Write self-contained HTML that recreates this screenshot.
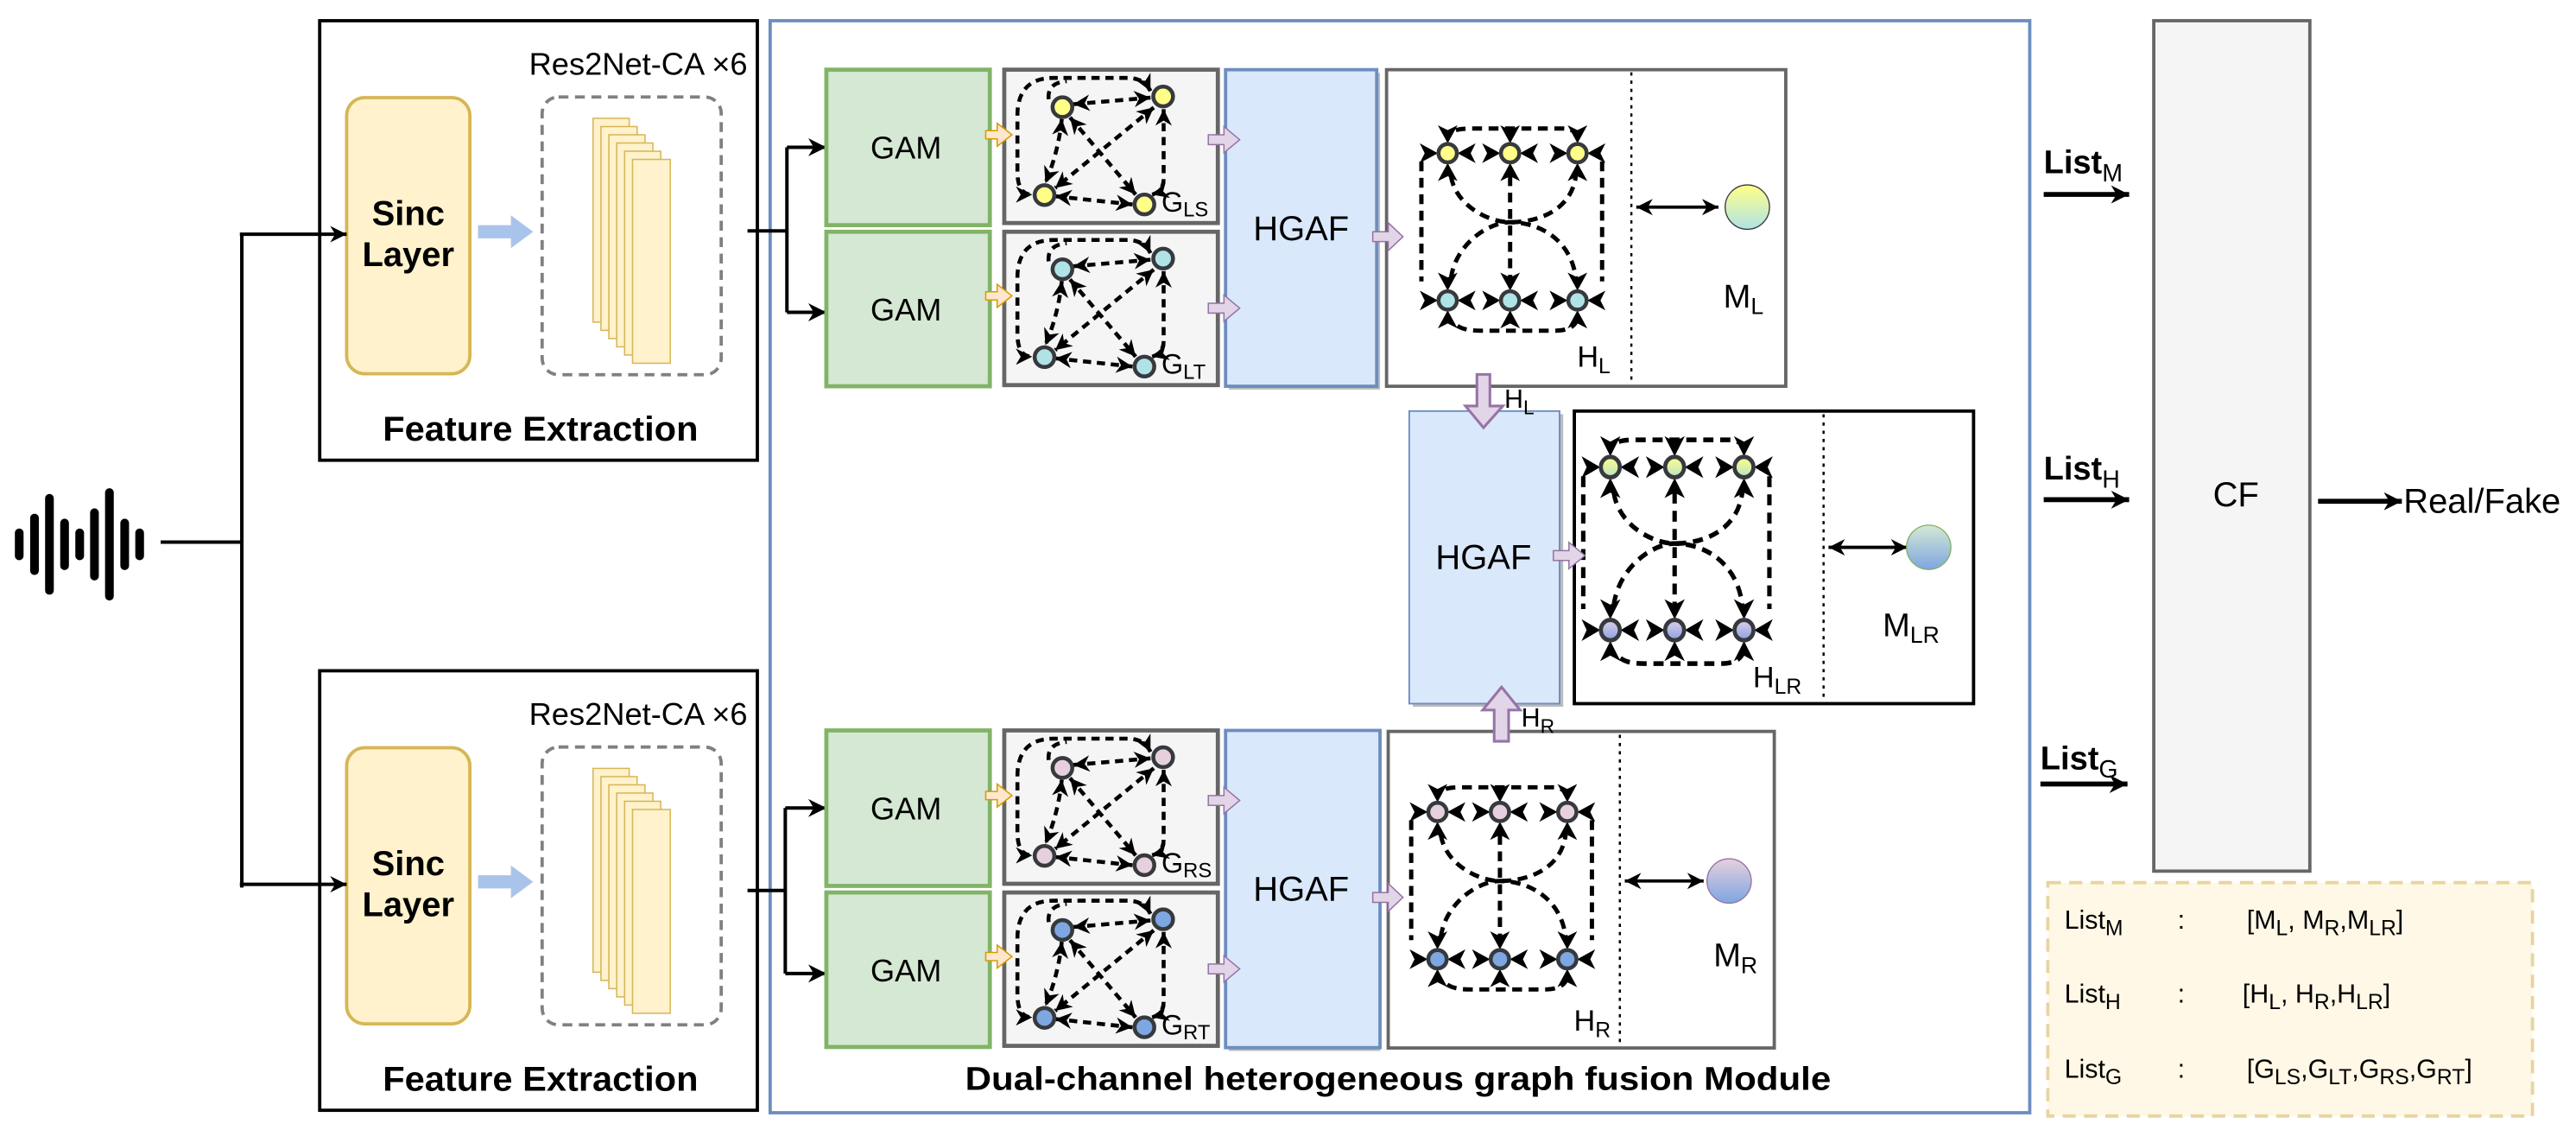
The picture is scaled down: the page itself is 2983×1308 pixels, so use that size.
<!DOCTYPE html>
<html><head><meta charset="utf-8"><style>
html,body{margin:0;padding:0;background:#fff;}
svg{display:block;}
text{font-family:"Liberation Sans",Arial,sans-serif;fill:#000;}
</style></head><body>
<svg width="2983" height="1308" viewBox="0 0 1568 687.5" preserveAspectRatio="none" xmlns="http://www.w3.org/2000/svg">
<defs>
<marker id="m" viewBox="0 0 10 10" refX="10" refY="5" markerUnits="userSpaceOnUse" markerWidth="10" markerHeight="10" orient="auto-start-reverse"><path d="M0,0 L10,5 L0,10 L3,5z" fill="#000"/></marker>
<marker id="mb" viewBox="0 0 10 10" refX="10" refY="5" markerUnits="userSpaceOnUse" markerWidth="11" markerHeight="11" orient="auto-start-reverse"><path d="M0,0 L10,5 L0,10 L3,5z" fill="#000"/></marker>
<linearGradient id="gYT" x1="0" y1="0" x2="0" y2="1"><stop offset="0" stop-color="#ffff88"/><stop offset="1" stop-color="#b0e3e6"/></linearGradient>
<linearGradient id="gGB" x1="0" y1="0" x2="0" y2="1"><stop offset="0" stop-color="#d5e8d4"/><stop offset="1" stop-color="#7ea6e0"/></linearGradient>
<linearGradient id="gPB" x1="0" y1="0" x2="0" y2="1"><stop offset="0" stop-color="#e6d0de"/><stop offset="1" stop-color="#7ea6e0"/></linearGradient>
<linearGradient id="gYG" x1="0" y1="0" x2="0" y2="1"><stop offset="0" stop-color="#ffff88"/><stop offset="1" stop-color="#b9e0c8"/></linearGradient>
<linearGradient id="gLB" x1="0" y1="0" x2="0" y2="1"><stop offset="0" stop-color="#dcd0ea"/><stop offset="1" stop-color="#8c9fe0"/></linearGradient>

<g id="nd">
 <polygon points="-6,0 -17,-6 -14,0 -17,6"/>
 <polygon points="6,0 17,-6 14,0 17,6"/>
 <polygon points="0,-6 -6,-17 0,-14 6,-17"/>
 <polygon points="0,6 -6,17 0,14 6,17"/>
</g>

<g id="hg">
 <g fill="none" stroke="#000" stroke-width="2.6" stroke-dasharray="6 4">
  <path d="M5 -14 Q8 -15 15 -15 L70 -15 Q76 -15 79 -11"/>
  <path d="M-16 5 L-16 78"/>
  <path d="M94 5 L94 78"/>
  <path d="M6 105 Q10 108 20 108 L65 108 Q75 108 78 103"/>
  <path d="M38 14 L38 76"/>
  <path d="M2 14 C5 32, 25 42, 38 42 C55 42, 75 35, 78 14"/>
  <path d="M2 76 C5 55, 25 42, 38 42 C55 42, 75 52, 78 76"/>
 </g>
 <g fill="#000">
  <use href="#nd" x="0" y="0"/><use href="#nd" x="38" y="0"/><use href="#nd" x="79" y="0"/>
  <use href="#nd" x="0" y="89.6"/><use href="#nd" x="38" y="89.6"/><use href="#nd" x="79" y="89.6"/>
 </g>
 <g stroke="#36393d" stroke-width="2.4">
  <circle cx="0" cy="0" r="5.6" style="fill:var(--t)"/><circle cx="38" cy="0" r="5.6" style="fill:var(--t)"/><circle cx="79" cy="0" r="5.6" style="fill:var(--t)"/>
  <circle cx="0" cy="89.6" r="5.6" style="fill:var(--b)"/><circle cx="38" cy="89.6" r="5.6" style="fill:var(--b)"/><circle cx="79" cy="89.6" r="5.6" style="fill:var(--b)"/>
 </g>
</g>

<g id="gg">
 <rect x="0" y="0" width="130" height="93.3" fill="#f5f5f5" stroke="#666" stroke-width="2.5"/>
 <g fill="none" stroke="#000" stroke-width="2.4" stroke-dasharray="5 3.5">
  <path d="M89 13 Q85 5 75 5 L30 5 Q8 5 8 28 L8 62 Q8 76 17 76" marker-end="url(#m)" marker-start="url(#m)"/>
  <path d="M27 18 Q26 8 38 7" />
  <path d="M42 21 L89 17" marker-end="url(#m)" marker-start="url(#m)"/>
  <path d="M35 30 Q33 50 25 69" marker-end="url(#m)" marker-start="url(#m)"/>
  <path d="M91 23 L31 72" marker-end="url(#m)" marker-start="url(#m)"/>
  <path d="M40 29 L80 76" marker-end="url(#m)" marker-start="url(#m)"/>
  <path d="M31 77 L78 82" marker-end="url(#m)" marker-start="url(#m)"/>
  <path d="M97 24 L97 66 Q97 74 90 76" marker-end="url(#m)" marker-start="url(#m)"/>
 </g>
 <g stroke="#36393d" stroke-width="2.4" style="fill:var(--c)">
  <circle cx="35.4" cy="22.8" r="6"/><circle cx="96.7" cy="16.3" r="6"/>
  <circle cx="24.5" cy="76.3" r="6"/><circle cx="85.3" cy="82" r="6"/>
 </g>
</g>

<g id="fe">
 <rect x="194.6" y="12.6" width="266.4" height="267.4" fill="#fff" stroke="#000" stroke-width="2"/>
 <rect x="211" y="59.4" width="75" height="168" rx="11" fill="#fff2cc" stroke="#d6b656" stroke-width="2"/>
 <text x="248.5" y="137" font-size="21" font-weight="bold" text-anchor="middle">Sinc</text>
 <text x="248.5" y="162" font-size="21" font-weight="bold" text-anchor="middle">Layer</text>
 <polygon points="291,137 311,137 311,131 324.5,141 311,151 311,145 291,145" fill="#a9c4eb"/>
 <rect x="330" y="59" width="109" height="169" rx="10" fill="none" stroke="#808080" stroke-width="2" stroke-dasharray="6 4"/>
 <g fill="#fff2cc" stroke="#d6b656" stroke-width="0.8">
  <rect x="361" y="72" width="22" height="124"/>
  <rect x="365.8" y="77" width="22" height="124"/>
  <rect x="370.6" y="82" width="22" height="124"/>
  <rect x="375.4" y="87" width="22" height="124"/>
  <rect x="380.2" y="92" width="22" height="124"/>
  <rect x="385" y="97" width="23" height="124"/>
 </g>
 <text x="322" y="45.5" font-size="19" textLength="133" lengthAdjust="spacingAndGlyphs">Res2Net-CA ×6</text>
 <text x="329" y="268" font-size="21" font-weight="bold" text-anchor="middle" textLength="192" lengthAdjust="spacingAndGlyphs">Feature Extraction</text>
</g>

<g id="arr">
 <g fill="#ffe6cc" stroke="#d79b00" stroke-width="0.8">
  <polygon points="600,79.5 607,79.5 607,75 616,82 607,89 607,84.5 600,84.5"/>
  <polygon points="600,177.5 607,177.5 607,173 616,180 607,187 607,182.5 600,182.5"/>
 </g>
 <g fill="#e1d5e7" stroke="#9673a6" stroke-width="0.8">
  <polygon points="735.5,82 745,82 745,77 754.6,85 745,93 745,88 735.5,88"/>
  <polygon points="735.5,184.5 745,184.5 745,179.5 754.6,187.5 745,195.5 745,190.5 735.5,190.5"/>
  <polygon points="835.6,141 845,141 845,135.5 854,144 845,152.5 845,147 835.6,147"/>
 </g>
</g>
</defs>

<use href="#fe"/>
<use href="#fe" transform="translate(0,395.5)"/>

<!-- waveform -->
<g stroke="#000" stroke-width="5.3" stroke-linecap="round">
 <line x1="11.7" y1="324.2" x2="11.7" y2="338.2"/>
 <line x1="21" y1="315.2" x2="21" y2="347.2"/>
 <line x1="30.1" y1="303.2" x2="30.1" y2="359.2"/>
 <line x1="39.3" y1="318.2" x2="39.3" y2="344.2"/>
 <line x1="48.5" y1="324.2" x2="48.5" y2="338.2"/>
 <line x1="57.5" y1="311.9" x2="57.5" y2="350.5"/>
 <line x1="66.6" y1="299.7" x2="66.6" y2="362.7"/>
 <line x1="75.9" y1="318.2" x2="75.9" y2="344.2"/>
 <line x1="85" y1="324.2" x2="85" y2="338.2"/>
</g>
<g fill="none" stroke="#000" stroke-width="2.1">
 <line x1="97.8" y1="329.8" x2="147.2" y2="329.8"/>
 <line x1="147.2" y1="142.5" x2="147.2" y2="540"/>
 <path d="M146 142.5 L211 142.5" marker-end="url(#m)"/>
 <path d="M146 538 L211 538" marker-end="url(#m)"/>
</g>

<!-- module -->
<rect x="468.8" y="12.6" width="766.7" height="664.4" fill="none" stroke="#6c8ebf" stroke-width="2"/>
<text x="851" y="663" font-size="20" font-weight="bold" text-anchor="middle" textLength="527" lengthAdjust="spacingAndGlyphs">Dual-channel heterogeneous graph fusion Module</text>

<!-- connectors -->
<g fill="none" stroke="#000" stroke-width="2.1">
 <line x1="455" y1="140.5" x2="479" y2="140.5"/>
 <line x1="479" y1="89.6" x2="479" y2="190"/>
 <path d="M479 89.6 L503 89.6" marker-end="url(#mb)"/>
 <path d="M479 190 L503 190" marker-end="url(#mb)"/>
 <line x1="455" y1="541.8" x2="478" y2="541.8"/>
 <line x1="478" y1="491.6" x2="478" y2="592.3"/>
 <path d="M478 491.6 L503 491.6" marker-end="url(#mb)"/>
 <path d="M478 592.3 L503 592.3" marker-end="url(#mb)"/>
</g>

<!-- GAM + graphs -->
<g id="top">
 <rect x="503" y="42.4" width="99.5" height="94.6" fill="#d5e8d4" stroke="#82b366" stroke-width="2.5"/>
 <rect x="503" y="141" width="99.5" height="94" fill="#d5e8d4" stroke="#82b366" stroke-width="2.5"/>
 <text x="551.5" y="96.5" font-size="19" text-anchor="middle">GAM</text>
 <text x="551.5" y="195" font-size="19" text-anchor="middle">GAM</text>
</g>
<use href="#top" transform="translate(0,402)"/>
<use href="#gg" x="611.3" y="42.4" style="--c:#ffff88"/>
<use href="#gg" x="611.3" y="141" style="--c:#b0e3e6"/>
<use href="#gg" x="611.3" y="444.4" style="--c:#e6d0de"/>
<use href="#gg" x="611.3" y="543" style="--c:#7ea6e0"/>
<text x="707" y="128.8" font-size="17">G<tspan font-size="12.5" dy="3">LS</tspan></text>
<text x="707" y="227.4" font-size="17">G<tspan font-size="12.5" dy="3">LT</tspan></text>
<text x="707" y="530.8" font-size="17">G<tspan font-size="12.5" dy="3">RS</tspan></text>
<text x="707" y="629.4" font-size="17">G<tspan font-size="12.5" dy="3">RT</tspan></text>

<!-- HGAF top/bottom -->
<rect x="748" y="44.4" width="92" height="192.6" fill="#bbb"/>
<rect x="746" y="42.4" width="92" height="192.6" fill="#dae8fc" stroke="#6c8ebf" stroke-width="2"/>
<text x="792" y="146" font-size="21" text-anchor="middle">HGAF</text>
<rect x="748" y="446.4" width="92" height="193" fill="#bbb"/>
<rect x="746" y="444.4" width="94" height="193" fill="#dae8fc" stroke="#6c8ebf" stroke-width="2"/>
<text x="792" y="548" font-size="21" text-anchor="middle">HGAF</text>

<!-- H_L box -->
<rect x="844" y="42.4" width="243" height="192.6" fill="#fff" stroke="#666" stroke-width="2"/>
<line x1="993" y1="44" x2="993" y2="234" stroke="#000" stroke-width="1.3" stroke-dasharray="2 3"/>
<use href="#hg" transform="translate(881.2,93.2)" style="--t:#ffff88;--b:#b0e3e6"/>
<path d="M996 126 L1046 126" stroke="#000" stroke-width="2" marker-start="url(#m)" marker-end="url(#m)"/>
<circle cx="1063.6" cy="126" r="13.5" fill="url(#gYT)" stroke="#36393d" stroke-width="0.7"/>
<text x="1049" y="187" font-size="20">M<tspan font-size="14" dy="4">L</tspan></text>
<text x="960" y="223" font-size="18">H<tspan font-size="13" dy="4">L</tspan></text>

<!-- middle -->
<rect x="860" y="252" width="91.5" height="178" fill="#bbb"/>
<rect x="857.8" y="250.1" width="91.5" height="178" fill="#dae8fc" stroke="#6c8ebf" stroke-width="1"/>
<text x="903" y="346" font-size="21" text-anchor="middle">HGAF</text>
<rect x="958.3" y="250.1" width="243" height="178" fill="#fff" stroke="#000" stroke-width="2"/>
<line x1="1110" y1="252" x2="1110" y2="427" stroke="#000" stroke-width="1.3" stroke-dasharray="2 3"/>
<use href="#hg" transform="translate(980.2,284.2) scale(1.03,1.107)" style="--t:url(#gYG);--b:url(#gLB)"/>
<path d="M1113 333 L1161 333" stroke="#000" stroke-width="2" marker-start="url(#m)" marker-end="url(#m)"/>
<circle cx="1174" cy="333" r="13.5" fill="url(#gGB)" stroke="#82b366" stroke-width="0.7"/>
<text x="1146" y="387" font-size="20">M<tspan font-size="14" dy="4">LR</tspan></text>
<text x="1067" y="418" font-size="18">H<tspan font-size="13" dy="4">LR</tspan></text>

<!-- H_R box -->
<rect x="845" y="445" width="235" height="192.6" fill="#fff" stroke="#666" stroke-width="2"/>
<line x1="986" y1="447" x2="986" y2="636" stroke="#000" stroke-width="1.3" stroke-dasharray="2 3"/>
<use href="#hg" transform="translate(875,494)" style="--t:#e6d0de;--b:#7ea6e0"/>
<path d="M989 536 L1037 536" stroke="#000" stroke-width="2" marker-start="url(#m)" marker-end="url(#m)"/>
<circle cx="1052.5" cy="536" r="13.5" fill="url(#gPB)" stroke="#9673a6" stroke-width="0.7"/>
<text x="1043" y="588" font-size="20">M<tspan font-size="14" dy="4">R</tspan></text>
<text x="958" y="627" font-size="18">H<tspan font-size="13" dy="4">R</tspan></text>

<!-- small arrows on top -->
<use href="#arr"/>
<use href="#arr" transform="translate(0,402)"/>
<g fill="#e1d5e7" stroke="#9673a6" stroke-width="0.8">
 <polygon points="945.5,335 955,335 955,330 964.8,338 955,346 955,341 945.5,341"/>
</g>

<!-- purple arrows -->
<g fill="#e1d5e7" stroke="#9673a6" stroke-width="1.6">
 <polygon points="899,227.8 906.9,227.8 906.9,247 914.8,247 903,260.2 892,247 899,247"/>
 <polygon points="909.5,451 918.3,451 918.3,432 925.3,432 914,418 902.5,432 909.5,432"/>
</g>
<text x="915.7" y="248" font-size="16">H<tspan font-size="12" dy="4">L</tspan></text>
<text x="926" y="442" font-size="16">H<tspan font-size="12" dy="4">R</tspan></text>

<!-- CF -->
<rect x="1311" y="12.6" width="95" height="517.4" fill="#f5f5f5" stroke="#666" stroke-width="2"/>
<text x="1361" y="308" font-size="21" text-anchor="middle">CF</text>
<text x="1244" y="105.5" font-size="20" font-weight="bold">List<tspan font-size="15" font-weight="normal" dy="5">M</tspan></text>
<text x="1244" y="291.8" font-size="20" font-weight="bold">List<tspan font-size="15" font-weight="normal" dy="5">H</tspan></text>
<text x="1242" y="468" font-size="20" font-weight="bold">List<tspan font-size="15" font-weight="normal" dy="5">G</tspan></text>
<g stroke="#000" stroke-width="3" fill="none">
 <path d="M1244 118.3 L1296 118.3" marker-end="url(#mb)"/>
 <path d="M1244 304 L1296 304" marker-end="url(#mb)"/>
 <path d="M1242 477 L1295 477" marker-end="url(#mb)"/>
 <path d="M1411 305 L1462 305" marker-end="url(#mb)"/>
</g>
<text x="1463" y="312" font-size="21">Real/Fake</text>

<!-- legend -->
<rect x="1246.5" y="537" width="295" height="142" fill="#fff8e6" stroke="#e8d4a0" stroke-width="2" stroke-dasharray="8 5"/>
<g font-size="16">
 <text x="1256.6" y="565">List<tspan font-size="13" dy="4">M</tspan></text>
 <text x="1325.5" y="565">:</text>
 <text x="1367.6" y="565">[M<tspan font-size="13" dy="4">L</tspan><tspan dy="-4">, M</tspan><tspan font-size="13" dy="4">R</tspan><tspan dy="-4">,M</tspan><tspan font-size="13" dy="4">LR</tspan><tspan dy="-4">]</tspan></text>
 <text x="1256.6" y="610">List<tspan font-size="13" dy="4">H</tspan></text>
 <text x="1325.5" y="610">:</text>
 <text x="1365" y="610">[H<tspan font-size="13" dy="4">L</tspan><tspan dy="-4">, H</tspan><tspan font-size="13" dy="4">R</tspan><tspan dy="-4">,H</tspan><tspan font-size="13" dy="4">LR</tspan><tspan dy="-4">]</tspan></text>
 <text x="1256.6" y="655.6">List<tspan font-size="13" dy="4">G</tspan></text>
 <text x="1325.5" y="655.6">:</text>
 <text x="1367.6" y="655.6">[G<tspan font-size="13" dy="4">LS</tspan><tspan dy="-4">,G</tspan><tspan font-size="13" dy="4">LT</tspan><tspan dy="-4">,G</tspan><tspan font-size="13" dy="4">RS</tspan><tspan dy="-4">,G</tspan><tspan font-size="13" dy="4">RT</tspan><tspan dy="-4">]</tspan></text>
</g>
</svg>
</body></html>
